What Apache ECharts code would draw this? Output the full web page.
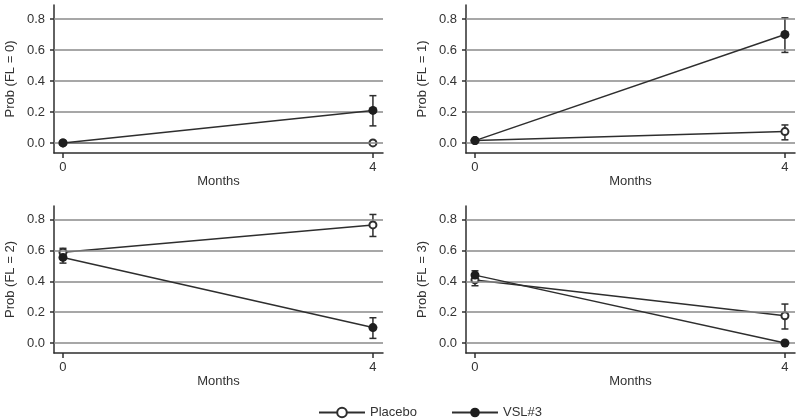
<!DOCTYPE html>
<html>
<head>
<meta charset="utf-8">
<script src="https://cdn.jsdelivr.net/npm/echarts@6/dist/echarts.min.js"></script>
<style>html,body{margin:0;padding:0;background:#fff;}#c{width:800px;height:419px;}</style>
</head>
<body>
<div id="c"></div>
<script>
// ---- data ----
var months = [0, 4];
var yTicks = [0, 0.2, 0.4, 0.6, 0.8];
var xTicks = [0, 4];
var panelNames = ['Prob (FL = 0)', 'Prob (FL = 1)', 'Prob (FL = 2)', 'Prob (FL = 3)'];
var seriesNames = ['Placebo', 'VSL#3'];

var placeboFL0 = [0, 0];       var placeboFL0Lo = [null, null];   var placeboFL0Hi = [null, null];
var vslFL0 = [0, 0.21];        var vslFL0Lo = [null, 0.11];       var vslFL0Hi = [null, 0.305];

var placeboFL1 = [0.015, 0.073]; var placeboFL1Lo = [null, 0.02];  var placeboFL1Hi = [null, 0.116];
var vslFL1 = [0.015, 0.70];      var vslFL1Lo = [null, 0.584];     var vslFL1Hi = [null, 0.807];

var placeboFL2 = [0.59, 0.767];  var placeboFL2Lo = [0.56, 0.692]; var placeboFL2Hi = [0.615, 0.835];
var vslFL2 = [0.556, 0.10];      var vslFL2Lo = [0.519, 0.03];     var vslFL2Hi = [0.595, 0.164];

var placeboFL3 = [0.41, 0.177];  var placeboFL3Lo = [0.372, 0.091]; var placeboFL3Hi = [0.45, 0.253];
var vslFL3 = [0.441, 0.0];       var vslFL3Lo = [0.41, null];       var vslFL3Hi = [0.469, null];

var panels = [
  {p: placeboFL0, pl: placeboFL0Lo, ph: placeboFL0Hi, v: vslFL0, vl: vslFL0Lo, vh: vslFL0Hi},
  {p: placeboFL1, pl: placeboFL1Lo, ph: placeboFL1Hi, v: vslFL1, vl: vslFL1Lo, vh: vslFL1Hi},
  {p: placeboFL2, pl: placeboFL2Lo, ph: placeboFL2Hi, v: vslFL2, vl: vslFL2Lo, vh: vslFL2Hi},
  {p: placeboFL3, pl: placeboFL3Lo, ph: placeboFL3Hi, v: vslFL3, vl: vslFL3Lo, vh: vslFL3Hi}
];

// ---- layout ----
var FONT = 'Liberation Sans, Arial, Helvetica, sans-serif';
var TXT = '#333';
var LINE = '#2e2e2e';
var GRIDC = '#8a8a8a';
var gridBoxes = [
  {left: 54, top: 5, width: 329, height: 148},
  {left: 466, top: 5, width: 329, height: 148},
  {left: 54, top: 206, width: 329, height: 147},
  {left: 466, top: 206, width: 329, height: 147}
];

function pairs(xs, ys) { return xs.map(function (x, i) { return [x, ys[i]]; }); }
function ciData(xs, lo, hi) {
  var out = [];
  xs.forEach(function (x, i) { if (lo[i] != null && hi[i] != null) out.push([x, lo[i], hi[i]]); });
  return out;
}
function renderErr(params, api) {
  var x = api.value(0);
  var a = api.coord([x, api.value(1)]);
  var b = api.coord([x, api.value(2)]);
  var w = 3.5;
  var st = {stroke: LINE, lineWidth: 1.5};
  return {type: 'group', children: [
    {type: 'line', shape: {x1: a[0], y1: a[1], x2: b[0], y2: b[1]}, style: st},
    {type: 'line', shape: {x1: a[0] - w, y1: a[1], x2: a[0] + w, y2: a[1]}, style: st},
    {type: 'line', shape: {x1: b[0] - w, y1: b[1], x2: b[0] + w, y2: b[1]}, style: st}
  ]};
}

var grids = [], xAxes = [], yAxes = [], series = [];
panels.forEach(function (pd, k) {
  grids.push(Object.assign({containLabel: false}, gridBoxes[k]));
  xAxes.push({
    type: 'value', gridIndex: k, min: -0.116, max: 4.13,
    name: 'Months', nameLocation: 'middle', nameGap: 15,
    nameTextStyle: {fontFamily: FONT, fontSize: 13, color: TXT},
    axisLine: {onZero: false, lineStyle: {color: LINE, width: 1.5}},
    axisTick: {show: true, length: 5, customValues: xTicks, lineStyle: {color: LINE, width: 1.5}},
    axisLabel: {customValues: xTicks, margin: 8, fontFamily: FONT, fontSize: 13, color: TXT},
    splitLine: {show: false}
  });
  yAxes.push({
    type: 'value', gridIndex: k, min: -0.065, max: 0.89,
    name: panelNames[k], nameLocation: 'middle', nameGap: 37, nameRotate: 90,
    nameTextStyle: {fontFamily: FONT, fontSize: 13, color: TXT},
    axisLine: {show: true, onZero: false, lineStyle: {color: LINE, width: 1.5}},
    axisTick: {show: true, length: 4, customValues: yTicks, lineStyle: {color: LINE, width: 1.5}},
    axisLabel: {customValues: yTicks, margin: 9, fontFamily: FONT, fontSize: 13, color: TXT,
      formatter: function (v) { return v.toFixed(1); }},
    splitLine: {show: false}
  });
  // gridlines
  series.push({
    type: 'line', xAxisIndex: k, yAxisIndex: k, data: [], z: 1, silent: true,
    markLine: {silent: true, symbol: 'none', label: {show: false}, animation: false,
      lineStyle: {color: GRIDC, width: 1.5, type: 'solid'},
      data: yTicks.map(function (v) { return {yAxis: v}; })}
  });
  series.push({
    type: 'custom', xAxisIndex: k, yAxisIndex: k, z: 3, renderItem: renderErr,
    encode: {x: 0, y: [1, 2]}, data: ciData(months, pd.pl, pd.ph), silent: true
  });
  series.push({
    type: 'custom', xAxisIndex: k, yAxisIndex: k, z: 3, renderItem: renderErr,
    encode: {x: 0, y: [1, 2]}, data: ciData(months, pd.vl, pd.vh), silent: true
  });
  series.push({
    name: seriesNames[0], type: 'line', xAxisIndex: k, yAxisIndex: k, z: 4,
    data: pairs(months, pd.p), symbol: 'emptyCircle', symbolSize: 7, showAllSymbol: true,
    lineStyle: {color: LINE, width: 1.5},
    itemStyle: {color: LINE, borderColor: LINE, borderWidth: 1.5}
  });
  series.push({
    name: seriesNames[1], type: 'line', xAxisIndex: k, yAxisIndex: k, z: 5,
    data: pairs(months, pd.v), symbol: 'circle', symbolSize: 9, showAllSymbol: true,
    lineStyle: {color: LINE, width: 1.5},
    itemStyle: {color: '#1e1e1e', borderColor: '#1e1e1e', borderWidth: 0}
  });
});

var chart = echarts.init(document.getElementById('c'), null, {renderer: 'canvas'});
chart.setOption({
  animation: false,
  backgroundColor: '#fff',
  grid: grids, xAxis: xAxes, yAxis: yAxes, series: series,
  legend: {
    data: seriesNames, left: 313, top: 401, itemWidth: 46, itemHeight: 12, itemGap: 34,
    textStyle: {fontFamily: FONT, fontSize: 13, color: TXT}
  }
});
</script>
</body>
</html>
